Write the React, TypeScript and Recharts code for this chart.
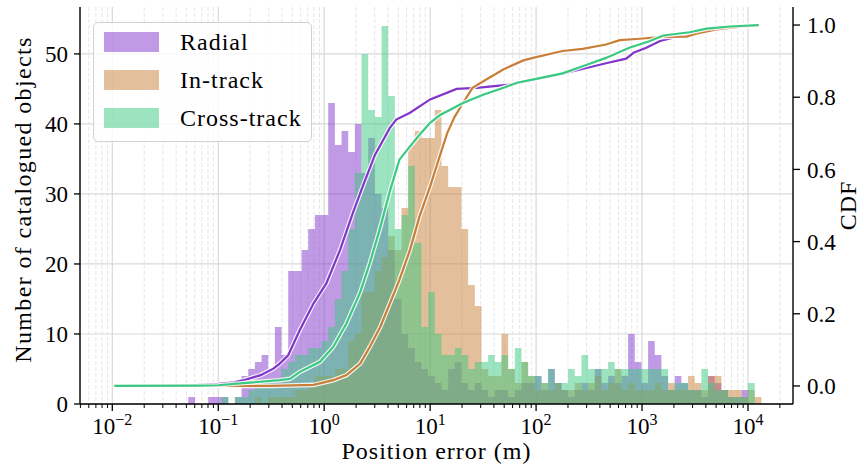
import React from 'react';
import { ComposedChart, Area, Line, XAxis, YAxis, CartesianGrid } from 'recharts';

// ── Fonts / colours ───────────────────────────────────────────────────────────
const FONT = '"Liberation Serif", "DejaVu Serif", serif';
const PURPLE = '#8135c9';
const ORANGE = '#c97f37';
const GREEN = '#39c981';

// ── Histogram bins (x is log10 of position error in m) ────────────────────────
const BIN_START = -1.283;
const BIN_WIDTH = 0.0629;

const RADIAL_COUNTS = [
    1, 0, 0, 1, 1, 1, 0, 1, 4, 5,
    6, 7, 5, 11, 7, 19, 19, 22, 25, 27,
    27, 43, 37, 39, 36, 40, 33, 38, 30, 28,
    22, 15, 10, 8, 6, 5, 4, 3, 2, 5,
    6, 3, 2, 3, 2, 1, 2, 2, 1, 2,
    3, 3, 4, 2, 5, 3, 2, 1, 2, 3,
    2, 5, 3, 4, 3, 4, 10, 6, 3, 9,
    7, 4, 2, 4, 3, 2, 2, 1, 4, 3,
    2, 1, 1, 2, 0, 0,
];
const INTRACK_COUNTS = [
    0, 0, 0, 0, 0, 0, 0, 0, 0, 0,
    1, 0, 1, 1, 1, 1, 2, 2, 3, 4,
    4, 4, 5, 5, 9, 10, 16, 16, 19, 21,
    24, 22, 28, 37, 39, 38, 38, 42, 34, 31,
    31, 25, 17, 14, 5, 4, 4, 10, 5, 3,
    6, 4, 2, 3, 2, 3, 2, 2, 3, 2,
    3, 4, 2, 3, 5, 2, 3, 2, 2, 2,
    3, 2, 3, 2, 2, 4, 3, 2, 4, 4,
    2, 2, 2, 1, 2, 1,
];
const CROSSTRACK_COUNTS = [
    0, 0, 0, 0, 0, 1, 0, 1, 1, 2,
    3, 3, 3, 3, 5, 6, 7, 7, 8, 8,
    9, 11, 15, 19, 25, 33, 50, 42, 41, 54,
    44, 25, 27, 34, 23, 11, 16, 10, 7, 7,
    8, 7, 5, 6, 6, 7, 6, 7, 5, 8,
    6, 4, 4, 3, 5, 3, 3, 5, 4, 7,
    5, 5, 5, 6, 5, 5, 5, 5, 5, 5,
    5, 5, 2, 3, 3, 2, 2, 5, 3, 2,
    2, 1, 1, 1, 3, 0,
];

// ── CDF curves (log10 x, cumulative fraction) ─────────────────────────────────
const RADIAL_CDF_LOGX = [-1.98, -1.5, -1.2, -1.0, -0.85, -0.76, -0.6, -0.48, -0.42, -0.34, -0.23, -0.1, 0.02, 0.15, 0.27, 0.36, 0.48, 0.62, 0.68, 0.81, 1.0, 1.25, 1.44, 1.75, 2.0, 2.32, 2.66, 2.85, 2.92, 3.04, 3.17, 3.36, 3.61, 3.83, 4.1];
const RADIAL_CDF = [0, 0.001, 0.003, 0.006, 0.01, 0.016, 0.03, 0.048, 0.062, 0.085, 0.155, 0.229, 0.284, 0.377, 0.479, 0.55, 0.641, 0.715, 0.738, 0.757, 0.794, 0.823, 0.826, 0.835, 0.85, 0.87, 0.894, 0.907, 0.923, 0.937, 0.956, 0.97, 0.983, 0.992, 1.0];

const INTRACK_CDF_LOGX = [-1.98, -0.5, -0.1, 0.085, 0.21, 0.34, 0.43, 0.53, 0.62, 0.71, 0.81, 0.9, 1.0, 1.09, 1.16, 1.23, 1.31, 1.4, 1.53, 1.69, 1.88, 2.0, 2.25, 2.44, 2.66, 2.79, 2.98, 3.2, 3.42, 3.51, 3.7, 3.89, 4.1];
const INTRACK_CDF = [0, 0, 0.003, 0.016, 0.03, 0.062, 0.108, 0.164, 0.229, 0.294, 0.377, 0.47, 0.553, 0.636, 0.7, 0.745, 0.784, 0.826, 0.849, 0.877, 0.902, 0.911, 0.928, 0.934, 0.946, 0.958, 0.962, 0.967, 0.968, 0.976, 0.988, 0.994, 1.0];

const CROSSTRACK_CDF_LOGX = [-1.98, -1.2, -1.0, -0.76, -0.42, -0.32, -0.23, -0.04, 0.085, 0.21, 0.34, 0.43, 0.53, 0.62, 0.71, 0.81, 0.9, 1.0, 1.09, 1.31, 1.5, 1.72, 1.82, 2.0, 2.25, 2.44, 2.66, 2.88, 3.07, 3.2, 3.45, 3.61, 3.83, 4.1];
const CROSSTRACK_CDF = [0, 0.001, 0.002, 0.008, 0.016, 0.02, 0.039, 0.067, 0.108, 0.173, 0.26, 0.34, 0.44, 0.54, 0.627, 0.664, 0.696, 0.729, 0.75, 0.784, 0.807, 0.829, 0.84, 0.851, 0.866, 0.886, 0.909, 0.937, 0.955, 0.971, 0.98, 0.99, 0.996, 1.0];

// ── Axes ──────────────────────────────────────────────────────────────────────
const X_DOMAIN = [-2.305, 4.425];
const X_MAJOR = [-2, -1, 0, 1, 2, 3, 4];
const X_MINOR: number[] = [];
for (let d = -3; d <= 4; d++) {
    for (let m = 2; m <= 9; m++) {
        const v = d + Math.log10(m);
        if (v > X_DOMAIN[0] && v < X_DOMAIN[1]) X_MINOR.push(v);
    }
}
const COUNT_DOMAIN = [0, 56.7];
const COUNT_TICKS = [0, 10, 20, 30, 40, 50];
const CDF_DOMAIN = [-0.05, 1.05];
const CDF_TICKS = [0, 0.2, 0.4, 0.6, 0.8, 1.0];

const SERIES = [
    { name: 'Radial', color: PURPLE, counts: RADIAL_COUNTS, cdfX: RADIAL_CDF_LOGX, cdf: RADIAL_CDF },
    { name: 'In-track', color: ORANGE, counts: INTRACK_COUNTS, cdfX: INTRACK_CDF_LOGX, cdf: INTRACK_CDF },
    { name: 'Cross-track', color: GREEN, counts: CROSSTRACK_COUNTS, cdfX: CROSSTRACK_CDF_LOGX, cdf: CROSSTRACK_CDF },
];

function histRows(counts: number[]) {
    const rows = counts.map((c, i) => ({ x: BIN_START + i * BIN_WIDTH, c }));
    rows.push({ x: BIN_START + counts.length * BIN_WIDTH, c: 0 });
    return rows;
}

function cdfRows(xs: number[], ys: number[]) {
    return xs.map((x, i) => ({ x, c: ys[i] }));
}

// ── Log tick with 10^n label ──────────────────────────────────────────────────
function LogTick({ x, y, payload }: any) {
    const v = payload.value;
    const major = Math.abs(v - Math.round(v)) < 1e-6;
    return (
        <g>
            <line x1={x} x2={x} y1={y} y2={y + (major ? 7 : 4)} stroke="#000" strokeWidth={major ? 1.3 : 1} />
            {major && (
                <text x={x} y={y + 30} textAnchor="middle" fontFamily={FONT} fontSize={23} fill="#000">
                    10<tspan dy={-9} fontSize={16}>{v < 0 ? `\u2212${-v}` : `${v}`}</tspan>
                </text>
            )}
        </g>
    );
}

const labelStyle = { fontFamily: FONT, fontSize: 24, letterSpacing: 1, fill: '#000' };

export default function App() {
    return (
        <div style={{ position: 'absolute', left: 0, top: 0, width: 864, height: 472, background: '#fff' }}>
            <ComposedChart width={864} height={472} margin={{ top: 7, right: 0, bottom: 0, left: 0 }}>
                <CartesianGrid horizontal={false} verticalValues={X_MINOR} stroke="#e6e6e6" strokeDasharray="4 2" />
                <CartesianGrid verticalValues={X_MAJOR} horizontalValues={COUNT_TICKS} stroke="#d9d9d9" strokeWidth={1.2} />
                <XAxis
                    dataKey="x"
                    type="number"
                    domain={X_DOMAIN}
                    allowDataOverflow
                    ticks={[...X_MAJOR, ...X_MINOR]}
                    interval={0}
                    tick={<LogTick />}
                    tickLine={false}
                    tickSize={0}
                    tickMargin={0}
                    height={68}
                    axisLine={{ stroke: '#000', strokeWidth: 1.4 }}
                    label={{
                        content: ({ viewBox }: any) => (
                            <text x={viewBox.x + viewBox.width / 2} y={viewBox.y + 55} textAnchor="middle" style={labelStyle}>
                                Position error (m)
                            </text>
                        ),
                    }}
                />
                <XAxis
                    xAxisId="top"
                    orientation="top"
                    type="number"
                    domain={X_DOMAIN}
                    allowDataOverflow
                    height={0}
                    tick={false}
                    tickLine={false}
                    axisLine={{ stroke: '#000', strokeWidth: 1.4 }}
                />
                <YAxis
                    domain={COUNT_DOMAIN}
                    allowDataOverflow
                    ticks={COUNT_TICKS}
                    interval={0}
                    width={80}
                    tickSize={6}
                    tickMargin={6}
                    tick={{ fontFamily: FONT, fontSize: 23, fill: '#000' }}
                    tickLine={{ stroke: '#000', strokeWidth: 1.3 }}
                    axisLine={{ stroke: '#000', strokeWidth: 1.4 }}
                    label={{
                        content: ({ viewBox }: any) => (
                            <text
                                transform={`translate(${viewBox.x + 23}, ${viewBox.y + viewBox.height / 2 - 6}) rotate(-90)`}
                                textAnchor="middle"
                                dominantBaseline="central"
                                style={{ ...labelStyle, letterSpacing: 1.35 }}
                            >
                                Number of catalogued objects
                            </text>
                        ),
                    }}
                />
                <YAxis
                    yAxisId="cdf"
                    orientation="right"
                    domain={CDF_DOMAIN}
                    allowDataOverflow
                    ticks={CDF_TICKS}
                    interval={0}
                    width={71}
                    tickSize={7}
                    tickMargin={7}
                    tickFormatter={(v: number) => v.toFixed(1)}
                    tick={{ fontFamily: FONT, fontSize: 23, fill: '#000' }}
                    tickLine={{ stroke: '#000', strokeWidth: 1.3 }}
                    axisLine={{ stroke: '#000', strokeWidth: 1.4 }}
                    label={{
                        content: ({ viewBox }: any) => (
                            <text
                                transform={`translate(${viewBox.x + 55}, ${viewBox.y + viewBox.height / 2}) rotate(-90)`}
                                textAnchor="middle"
                                dominantBaseline="central"
                                style={labelStyle}
                            >
                                CDF
                            </text>
                        ),
                    }}
                />

                {/* histograms, semi-transparent and overlapping */}
                {SERIES.map(s => (
                    <Area
                        key={`h-${s.name}`}
                        data={histRows(s.counts)}
                        dataKey="c"
                        type="stepAfter"
                        fill={s.color}
                        fillOpacity={0.5}
                        stroke="none"
                        dot={false}
                        activeDot={false}
                        isAnimationActive={false}
                    />
                ))}

                {/* CDF curves with a white halo */}
                {SERIES.flatMap(s => [
                    <Line
                        key={`halo-${s.name}`}
                        data={cdfRows(s.cdfX, s.cdf)}
                        dataKey="c"
                        yAxisId="cdf"
                        type="linear"
                        stroke="#fff"
                        strokeOpacity={0.85}
                        strokeWidth={4.6}
                        dot={false}
                        activeDot={false}
                        isAnimationActive={false}
                    />,
                    <Line
                        key={`cdf-${s.name}`}
                        data={cdfRows(s.cdfX, s.cdf)}
                        dataKey="c"
                        yAxisId="cdf"
                        type="linear"
                        stroke={s.color}
                        strokeWidth={2.2}
                        dot={false}
                        activeDot={false}
                        isAnimationActive={false}
                    />,
                ])}
            </ComposedChart>

            {/* legend */}
            <div
                style={{
                    position: 'absolute', left: 93, top: 22, width: 219, height: 120,
                    border: '1px solid #d2d2d2', borderRadius: 5, background: 'rgba(255,255,255,0.8)',
                    boxSizing: 'border-box',
                }}
            >
                {SERIES.map((s, i) => (
                    <div key={s.name} style={{ position: 'absolute', left: 10, top: 9 + i * 38, height: 20, display: 'flex', alignItems: 'center' }}>
                        <span style={{ width: 55, height: 20, background: s.color, opacity: 0.5, display: 'inline-block' }} />
                        <span style={{ marginLeft: 21, fontFamily: FONT, fontSize: 24, letterSpacing: 1, color: '#000', lineHeight: '20px' }}>
                            {s.name}
                        </span>
                    </div>
                ))}
            </div>
        </div>
    );
}
